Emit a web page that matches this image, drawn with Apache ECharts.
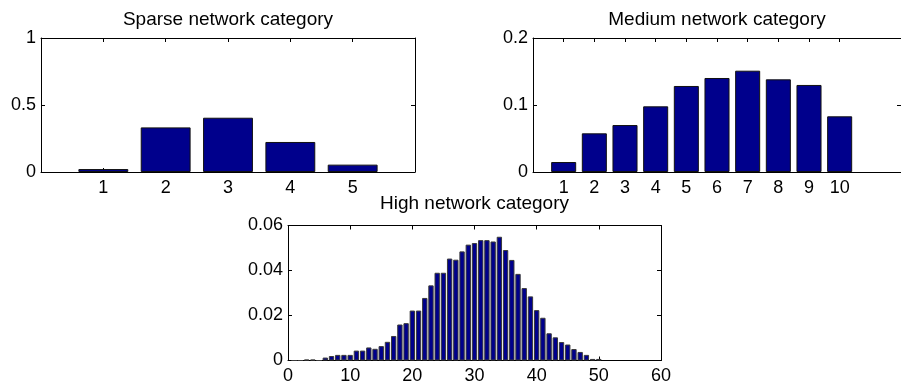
<!DOCTYPE html>
<html>
<head>
<meta charset="utf-8">
<script src="https://cdn.jsdelivr.net/npm/echarts@6/dist/echarts.min.js"></script>
<style>
  html, body { margin: 0; padding: 0; background: #fff; }
  #chart { width: 901px; height: 387px; }
</style>
</head>
<body>
<div id="chart"></div>
<script>
// Degree-distribution shares for three network categories
const sparseDegree = [1, 2, 3, 4, 5];
const sparseShare = [0.022, 0.333, 0.405, 0.224, 0.055];

const mediumDegree = [1, 2, 3, 4, 5, 6, 7, 8, 9, 10];
const mediumShare = [0.0149, 0.0577, 0.0701, 0.098, 0.1284, 0.1403, 0.1512, 0.1383, 0.1299, 0.0831];

// High category: shares for degree 1..50
const highShare = [
  0, 0, 0.0004, 0.0004, 0, 0.0013, 0.002, 0.0025, 0.0025, 0.0025,
  0.0044, 0.0044, 0.0058, 0.0052, 0.0064, 0.0083, 0.0109, 0.016, 0.0166, 0.0222,
  0.0222, 0.0278, 0.0334, 0.039, 0.039, 0.0453, 0.0448, 0.0485, 0.0515, 0.0522,
  0.0535, 0.0535, 0.0529, 0.055, 0.0491, 0.0447, 0.0385, 0.0322, 0.0285, 0.0224,
  0.019, 0.0121, 0.0103, 0.0082, 0.0071, 0.0051, 0.0038, 0.0025, 0.0007, 0.0007
];
const highDegree = highShare.map((_, i) => i + 1);

const sparseYTicks = [0, 0.5, 1];
const mediumYTicks = [0, 0.1, 0.2];
const highYTicks = [0, 0.02, 0.04, 0.06];
const highXTicks = [0, 10, 20, 30, 40, 50, 60];

const FONT = 'Liberation Sans';
const FS = 18;
const BAR_FILL = '#00008C';

// Panel layouts (pixel boxes) and x ranges
const panels = [
  { title: 'Sparse network category', left: 41, top: 38, width: 374, height: 134,
    xMin: 0, xMax: 6, xTicks: sparseDegree, yTicks: sparseYTicks, titleGap: 9,
    barFrac: 0.8, edge: '#111', x: sparseDegree, y: sparseShare },
  { title: 'Medium network category', left: 533, top: 38, width: 375.6, height: 134,
    xMin: 0, xMax: 12, xTicks: mediumDegree, yTicks: mediumYTicks, titleGap: 9,
    barFrac: 0.8, edge: '#111', x: mediumDegree, y: mediumShare },
  { title: 'High network category', left: 288, top: 225.5, width: 373, height: 135,
    xMin: 0, xMax: 60, xTicks: highXTicks, yTicks: highYTicks, titleGap: 12,
    barFrac: 0.86, edge: '#3a3a3a', x: highDegree, y: highShare }
];

const grid = [], xAxis = [], yAxis = [], series = [];
const lineStyle = { color: '#000', width: 1 };
const tickBase = { show: true, inside: true, length: 4, lineStyle: { color: '#000', width: 1 } };
const labelBase = { color: '#000', fontFamily: FONT, fontSize: FS };

panels.forEach((p, i) => {
  const yMax = p.yTicks[p.yTicks.length - 1];
  const yStep = p.yTicks[1] - p.yTicks[0];
  grid.push({ left: p.left, top: p.top, width: p.width, height: p.height, containLabel: false });

  // bottom axis with labels
  xAxis.push({
    type: 'value', gridIndex: i, position: 'bottom', min: p.xMin, max: p.xMax,
    axisLine: { show: true, onZero: false, lineStyle },
    axisTick: Object.assign({}, tickBase, { customValues: p.xTicks }),
    axisLabel: Object.assign({}, labelBase, { margin: 7, customValues: p.xTicks }),
    splitLine: { show: false }
  });
  // top axis closing the box, carrying the panel title
  xAxis.push({
    type: 'value', gridIndex: i, position: 'top', min: p.xMin, max: p.xMax,
    name: p.title, nameLocation: 'middle', nameGap: p.titleGap,
    nameTextStyle: { color: '#000', fontFamily: FONT, fontSize: 19 },
    axisLine: { show: true, onZero: false, lineStyle },
    axisTick: Object.assign({}, tickBase, { customValues: p.xTicks }),
    axisLabel: { show: false },
    splitLine: { show: false }
  });
  yAxis.push({
    type: 'value', gridIndex: i, position: 'left', min: 0, max: yMax, interval: yStep,
    axisLine: { show: true, onZero: false, lineStyle },
    axisTick: tickBase,
    axisLabel: Object.assign({}, labelBase, { margin: 5 }),
    splitLine: { show: false }
  });
  yAxis.push({
    type: 'value', gridIndex: i, position: 'right', min: 0, max: yMax, interval: yStep,
    axisLine: { show: true, onZero: false, lineStyle },
    axisTick: tickBase,
    axisLabel: { show: false },
    splitLine: { show: false }
  });

  const unitPx = p.width / (p.xMax - p.xMin);
  series.push({
    type: 'bar', xAxisIndex: i * 2, yAxisIndex: i * 2,
    data: p.x.map((d, k) => [d, p.y[k]]),
    barWidth: unitPx * p.barFrac,
    itemStyle: { color: BAR_FILL, borderColor: p.edge, borderWidth: 1 },
    animation: false, silent: true
  });
});

const chart = echarts.init(document.getElementById('chart'), null, { renderer: 'canvas' });
chart.setOption({
  animation: false,
  backgroundColor: '#fff',
  grid, xAxis, yAxis, series
});
</script>
</body>
</html>
